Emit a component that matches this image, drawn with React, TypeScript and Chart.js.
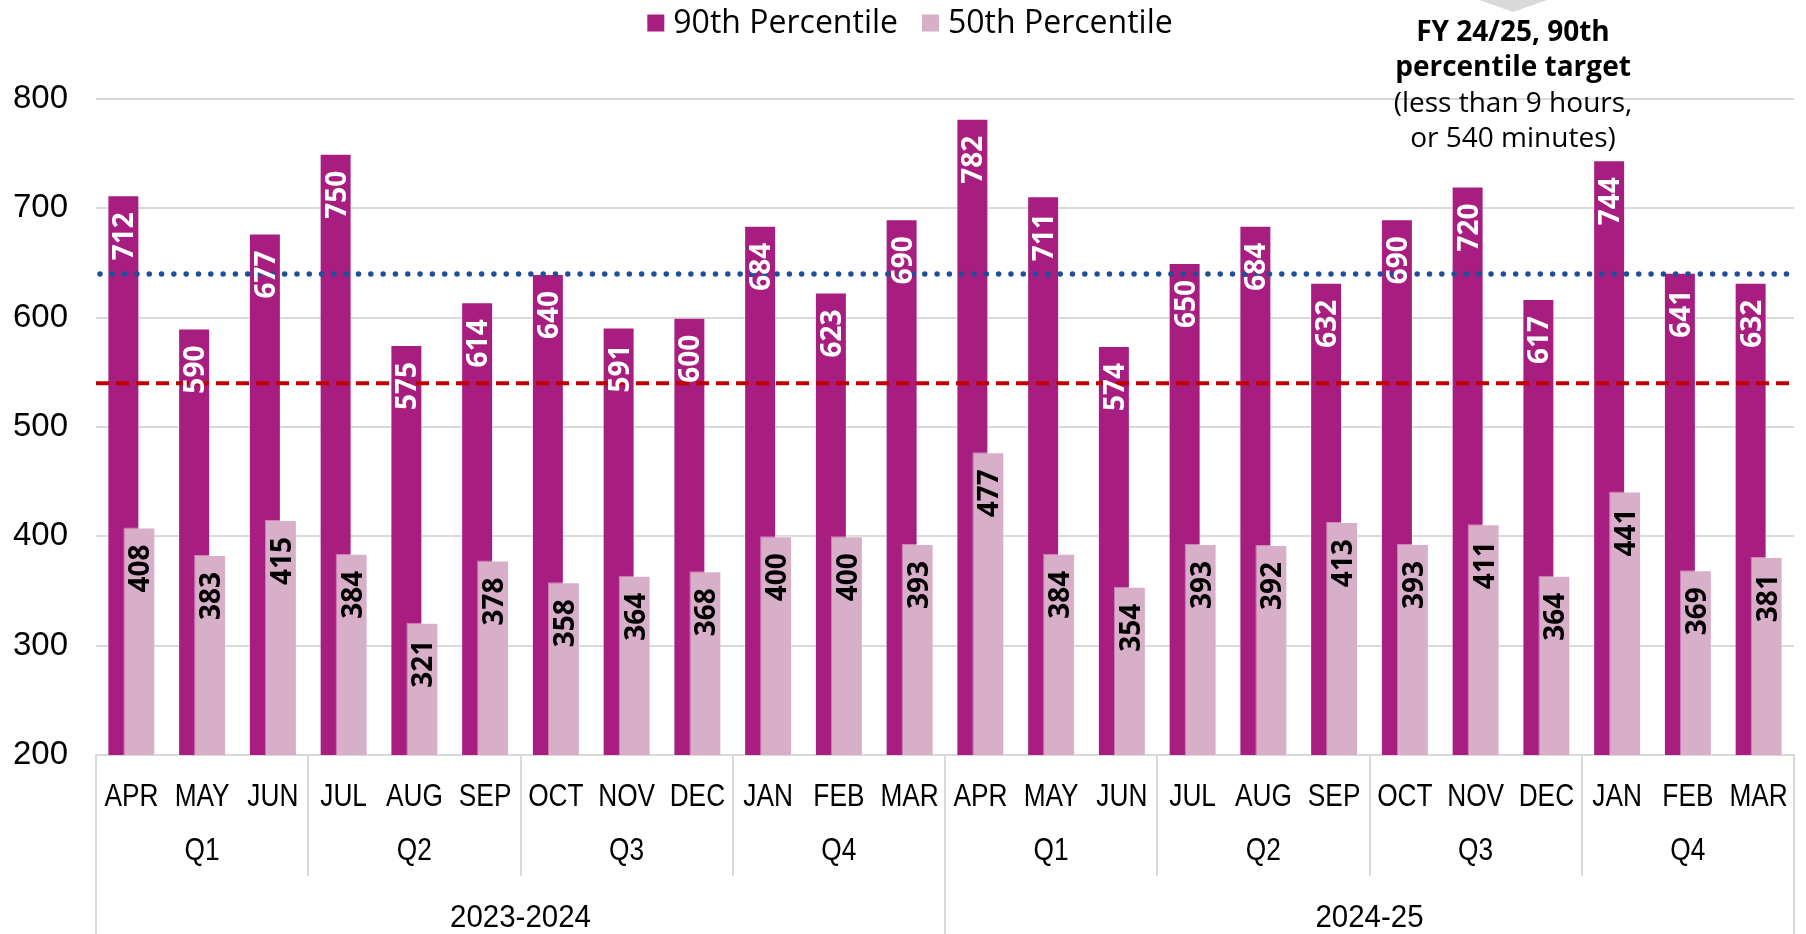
import React, { useEffect, useRef } from 'react';
import { Chart, registerables } from 'chart.js';

Chart.register(...registerables);

// ---------- data ----------
const months = ['APR', 'MAY', 'JUN', 'JUL', 'AUG', 'SEP', 'OCT', 'NOV', 'DEC', 'JAN', 'FEB', 'MAR',
  'APR', 'MAY', 'JUN', 'JUL', 'AUG', 'SEP', 'OCT', 'NOV', 'DEC', 'JAN', 'FEB', 'MAR'];
const quarters = ['Q1', 'Q2', 'Q3', 'Q4', 'Q1', 'Q2', 'Q3', 'Q4'];
const years = ['2023-2024', '2024-25'];
const seriesNames = ['90th Percentile', '50th Percentile'];
const p90 = [712, 590, 677, 750, 575, 614, 640, 591, 600, 684, 623, 690,
  782, 711, 574, 650, 684, 632, 690, 720, 617, 744, 641, 632];
const p50 = [408, 383, 415, 384, 321, 378, 358, 364, 368, 400, 400, 393,
  477, 384, 354, 393, 392, 413, 393, 411, 364, 441, 369, 381];
const yMin = 200;
const yMax = 800;
const yStep = 100;
const dottedLineValue = 640;
const targetLineValue = 540;
const calloutBold = ['FY 24/25, 90th', 'percentile target'];
const calloutNormal = ['(less than 9 hours,', 'or 540 minutes)'];

// ---------- styles ----------
const DARK = '#A71D80';
const LIGHT = '#D8AFC9';
const GRID = '#D9D9D9';
const BLUE = '#1F4E9A';
const RED = '#C00000';
const AXIS_FONT = '"Liberation Sans", Arial, sans-serif';
const TEXT_FONT = '"Open Sans", "Noto Sans", sans-serif';

function condensedText(ctx: CanvasRenderingContext2D, text: string, x: number, y: number, sx: number) {
  ctx.save();
  ctx.translate(x, y);
  ctx.scale(sx, 1);
  ctx.fillText(text, 0, 0);
  ctx.restore();
}

const drawOrderPlugin = {
  id: 'drawOrder',
  beforeDatasetDraw(chart: any, args: any) {
    if (args.index === 0) return false;
    if (args.index === 1) {
      const { ctx, chartArea } = chart;
      ctx.save();
      ctx.beginPath();
      ctx.rect(chartArea.left, chartArea.top, chartArea.right - chartArea.left, chartArea.bottom - chartArea.top);
      ctx.clip();
      chart.getDatasetMeta(0).controller.draw();
      ctx.restore();
    }
    return true;
  },
};

const overlayPlugin = {
  id: 'overlay',
  afterDatasetsDraw(chart: any) {
    const { ctx, chartArea, scales } = chart;
    const y = scales.y;
    ctx.save();
    // red dashed target line
    const yr = y.getPixelForValue(targetLineValue);
    ctx.strokeStyle = RED;
    ctx.lineWidth = 4;
    ctx.lineCap = 'butt';
    ctx.setLineDash([13, 7]);
    ctx.beginPath();
    ctx.moveTo(chartArea.left, yr);
    ctx.lineTo(chartArea.right, yr);
    ctx.stroke();
    // blue dotted line
    const yb = y.getPixelForValue(dottedLineValue);
    ctx.strokeStyle = BLUE;
    ctx.lineWidth = 5.5;
    ctx.lineCap = 'round';
    ctx.setLineDash([0.01, 12.3]);
    ctx.beginPath();
    ctx.moveTo(chartArea.left + 4, yb);
    ctx.lineTo(chartArea.right, yb);
    ctx.stroke();
    ctx.setLineDash([]);
    ctx.restore();

    // value labels
    [0, 1].forEach((di) => {
      const meta = chart.getDatasetMeta(di);
      const data = chart.data.datasets[di].data;
      meta.data.forEach((bar: any, i: number) => {
        ctx.save();
        ctx.translate(bar.x, bar.y + 17);
        ctx.rotate(-Math.PI / 2);
        ctx.font = `bold 28px ${TEXT_FONT}`;
        ctx.fillStyle = di === 0 ? '#FFFFFF' : '#000000';
        ctx.textAlign = 'right';
        ctx.textBaseline = 'alphabetic';
        ctx.fillText(String(data[i]), 0, 10);
        ctx.restore();
      });
    });
  },
  afterDraw(chart: any) {
    const { ctx, chartArea } = chart;
    const x = chart.scales.x;
    const n = months.length;
    const step = x.getPixelForValue(1) - x.getPixelForValue(0);
    const edge = (i: number) => x.getPixelForValue(0) - step / 2 + i * step;
    const axisY = chartArea.bottom;

    ctx.save();
    ctx.strokeStyle = GRID;
    ctx.lineWidth = 2;
    // quarter / year separators
    for (let i = 0; i <= n; i += 3) {
      const xx = Math.round(edge(i));
      const isYear = i % 12 === 0;
      ctx.beginPath();
      ctx.moveTo(xx, axisY);
      ctx.lineTo(xx, isYear ? chart.height : axisY + 121);
      ctx.stroke();
    }
    ctx.fillStyle = '#000';
    ctx.font = `32px ${AXIS_FONT}`;
    ctx.textAlign = 'center';
    ctx.textBaseline = 'middle';
    // month labels
    months.forEach((m, mi) => {
      condensedText(ctx, m, x.getPixelForValue(mi), axisY + 42, 0.82);
    });
    // quarter labels
    quarters.forEach((q, qi) => {
      const cx = (edge(qi * 3) + edge(qi * 3 + 3)) / 2;
      condensedText(ctx, q, cx, axisY + 96, 0.82);
    });
    // year labels
    years.forEach((yl, yi) => {
      const cx = (edge(yi * 12) + edge(yi * 12 + 12)) / 2;
      condensedText(ctx, yl, cx, axisY + 163, 0.92);
    });

    // legend
    ctx.font = `32px ${TEXT_FONT}`;
    ctx.textAlign = 'left';
    const colors = [DARK, LIGHT];
    const box = 17;
    const gapBoxText = 9;
    const gapItems = 24;
    const widths = seriesNames.map((s) => box + gapBoxText + ctx.measureText(s).width);
    const total = widths.reduce((a, b) => a + b, 0) + gapItems * (seriesNames.length - 1);
    let lx = 910 - total / 2;
    const ly = 23;
    seriesNames.forEach((s, si) => {
      ctx.fillStyle = colors[si];
      ctx.fillRect(lx, ly - box / 2, box, box);
      ctx.fillStyle = '#000';
      ctx.fillText(s, lx + box + gapBoxText, ly + 1);
      lx += widths[si] + gapItems;
    });

    // callout
    const cx = 1513;
    ctx.fillStyle = GRID;
    ctx.beginPath();
    ctx.moveTo(cx - 34, 0);
    ctx.lineTo(cx + 34, 0);
    ctx.lineTo(cx, 12);
    ctx.closePath();
    ctx.fill();
    ctx.fillStyle = '#000';
    ctx.textAlign = 'center';
    const lines = [...calloutBold, ...calloutNormal];
    lines.forEach((l, li) => {
      ctx.font = `${li < calloutBold.length ? 'bold ' : ''}28px ${TEXT_FONT}`;
      ctx.fillText(l, cx, 33 + li * 35.5);
    });
    ctx.restore();
  },
};

export default function App() {
  const ref = useRef<HTMLCanvasElement | null>(null);
  useEffect(() => {
    document.body.style.margin = '0';
    const canvas = ref.current;
    if (!canvas) return;
    const chart = new Chart(canvas, {
      type: 'bar',
      data: {
        labels: months,
        datasets: [
          {
            label: seriesNames[0],
            data: p90,
            backgroundColor: DARK,
            borderColor: 'rgba(255,255,255,0.45)',
            borderWidth: 1,
          },
          {
            label: seriesNames[1],
            data: p50,
            backgroundColor: LIGHT,
            borderColor: 'rgba(255,255,255,0.45)',
            borderWidth: 1,
          },
        ],
      },
      options: {
        responsive: false,
        animation: false,
        devicePixelRatio: 1,
        datasets: {
          bar: {
            categoryPercentage: 0.452,
            barPercentage: 2,
          },
        },
        layout: { padding: { top: 99, right: 12, left: 0, bottom: 0 } },
        plugins: {
          legend: { display: false },
          tooltip: { enabled: false },
        },
        scales: {
          x: {
            offset: true,
            grid: { display: false, drawTicks: false },
            border: { display: true, color: GRID, width: 2 },
            ticks: { display: false },
            afterFit: (s: any) => { s.height = 179; },
          },
          y: {
            min: yMin,
            max: yMax,
            grid: { color: GRID, lineWidth: 2, drawTicks: false },
            border: { display: false },
            ticks: {
              stepSize: yStep,
              padding: 28,
              color: '#000',
              font: { family: AXIS_FONT, size: 33 },
            },
            afterFit: (s: any) => { s.width = 96; },
          },
        },
      },
      plugins: [drawOrderPlugin, overlayPlugin],
    });
    return () => chart.destroy();
  }, []);
  return (
    <div style={{ width: 1806, height: 934 }}>
      <canvas ref={ref} width={1806} height={934} style={{ display: 'block' }} />
    </div>
  );
}
